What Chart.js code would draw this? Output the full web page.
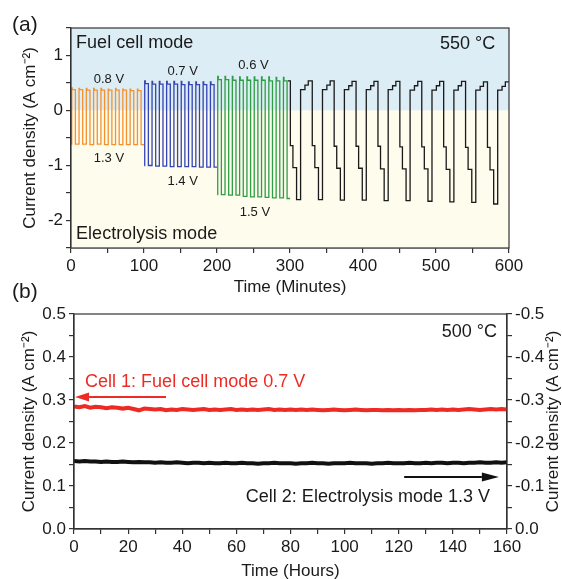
<!DOCTYPE html>
<html>
<head>
<meta charset="utf-8">
<script src="https://cdn.jsdelivr.net/npm/chart.js@4.4.0/dist/chart.umd.min.js"></script>
<style>
  html, body { margin: 0; padding: 0; background: #fff; }
  body { width: 562px; height: 579px; position: relative; overflow: hidden; }
  .panel { position: absolute; left: 0; width: 562px; }
  #panelA { top: 0; height: 300px; }
  #panelB { top: 278px; height: 301px; }
</style>
</head>
<body>
<div class="panel" id="panelA"><canvas id="chartA"></canvas></div>
<div class="panel" id="panelB"><canvas id="chartB"></canvas></div>
<script>
const FONT = "'Liberation Sans', Arial, sans-serif";
const INK = '#1a1a1a';

// ---- (a) pulse test at 550 C, time in minutes ----
const blockStarts = [0, 100, 200];                        // 0.8/1.3 V, 0.7/1.4 V, 0.6/1.5 V
const pulseOffsets = [1, 11, 21, 31, 41, 51, 61, 71, 81, 91]; // fuel cell pulse start inside a block

const orangePeak = [0.41, 0.40, 0.40, 0.40, 0.40, 0.39, 0.40, 0.39, 0.39, 0.39];
const orangeFuel = [0.38, 0.38, 0.37, 0.37, 0.37, 0.37, 0.37, 0.37, 0.36, 0.36];
const orangeElec = [-0.61, -0.61, -0.62, -0.61, -0.62, -0.62, -0.62, -0.62, -0.62, -0.62];

const bluePeak = [0.54, 0.53, 0.53, 0.53, 0.53, 0.53, 0.52, 0.52, 0.52, 0.52];
const blueFuel = [0.49, 0.48, 0.48, 0.48, 0.48, 0.47, 0.47, 0.47, 0.47, 0.47];
const blueElec = [-1.00, -1.01, -1.01, -1.02, -1.02, -1.02, -1.02, -1.03, -1.03, -1.03];

const greenPeak = [0.62, 0.62, 0.62, 0.61, 0.61, 0.61, 0.61, 0.61, 0.60, 0.60];
const greenFuel = [0.56, 0.56, 0.55, 0.55, 0.55, 0.55, 0.55, 0.54, 0.54, 0.54];
const greenElec = [-1.53, -1.54, -1.54, -1.56, -1.57, -1.57, -1.58, -1.59, -1.59, -1.60];

// mixed cycles: 1.3, 1.4, 1.5 V then 0.8, 0.7, 0.6 V
const mixStarts = [300.5, 330.5, 360.5, 390.5, 420.5, 450.5, 480.5, 510.5, 540.5, 570.5];
const mixSteps = [0, 3.5, 8.5, 14, 20, 24.5];
const mix13 = [-0.64, -0.64, -0.65, -0.65, -0.65, -0.66, -0.66, -0.66, -0.67, -0.67];
const mix14 = [-1.04, -1.04, -1.05, -1.05, -1.06, -1.06, -1.06, -1.07, -1.07, -1.08];
const mix15 = [-1.62, -1.62, -1.63, -1.63, -1.64, -1.64, -1.65, -1.66, -1.67, -1.70];
const mix08 = [0.38, 0.38, 0.38, 0.38, 0.38, 0.37, 0.37, 0.37, 0.37, 0.37];
const mix07 = [0.46, 0.46, 0.45, 0.45, 0.45, 0.45, 0.45, 0.45, 0.44, 0.44];
const mix06 = [0.54, 0.54, 0.53, 0.53, 0.53, 0.53, 0.53, 0.53, 0.52, 0.52];

// ---- (b) long term test at 500 C, time in hours ----
const hours = [0, 2, 4, 6, 8, 10, 12, 14, 16, 18, 20, 22, 24, 26, 28, 30, 32, 34, 36, 38,
  40, 42, 44, 46, 48, 50, 52, 54, 56, 58, 60, 62, 64, 66, 68, 70, 72, 74, 76, 78,
  80, 82, 84, 86, 88, 90, 92, 94, 96, 98, 100, 102, 104, 106, 108, 110, 112, 114, 116, 118,
  120, 122, 124, 126, 128, 130, 132, 134, 136, 138, 140, 142, 144, 146, 148, 150, 152, 154, 156, 158, 160];
const cell1 = [0.285, 0.283, 0.286, 0.282, 0.284, 0.283, 0.281, 0.283, 0.282, 0.280,
  0.282, 0.279, 0.276, 0.280, 0.279, 0.278, 0.279, 0.276, 0.278, 0.277,
  0.279, 0.278, 0.277, 0.278, 0.279, 0.277, 0.278, 0.277, 0.278, 0.279,
  0.277, 0.278, 0.277, 0.278, 0.277, 0.278, 0.279, 0.277, 0.278, 0.277,
  0.278, 0.277, 0.278, 0.277, 0.278, 0.277, 0.276, 0.277, 0.278, 0.277,
  0.276, 0.277, 0.278, 0.277, 0.276, 0.277, 0.277, 0.276, 0.277, 0.276,
  0.277, 0.276, 0.277, 0.276, 0.277, 0.277, 0.278, 0.277, 0.278, 0.277,
  0.278, 0.277, 0.278, 0.279, 0.278, 0.277, 0.278, 0.279, 0.278, 0.279, 0.278];
const cell2 = [0.158, 0.157, 0.158, 0.157, 0.157, 0.156, 0.157, 0.156, 0.156, 0.157,
  0.156, 0.155, 0.156, 0.155, 0.155, 0.154, 0.155, 0.154, 0.154, 0.155,
  0.154, 0.153, 0.154, 0.154, 0.153, 0.154, 0.153, 0.153, 0.154, 0.153,
  0.153, 0.154, 0.153, 0.153, 0.152, 0.153, 0.153, 0.154, 0.153, 0.153,
  0.153, 0.152, 0.153, 0.153, 0.154, 0.153, 0.153, 0.152, 0.153, 0.153,
  0.153, 0.154, 0.153, 0.153, 0.153, 0.152, 0.153, 0.153, 0.154, 0.153,
  0.153, 0.153, 0.154, 0.153, 0.153, 0.154, 0.153, 0.154, 0.154, 0.153,
  0.154, 0.154, 0.153, 0.154, 0.154, 0.155, 0.154, 0.154, 0.155, 0.154, 0.155];

function pulseBlock(start, peak, level, elec) {
  const pts = [{x: start + 0.3, y: elec[0]}];
  pulseOffsets.forEach(function (off, i) {
    const t = start + off;
    pts.push({x: t, y: peak[i]});
    pts.push({x: t + 0.8, y: level[i]});
    pts.push({x: t + 5, y: elec[i]});
  });
  pts.push({x: start + 100, y: elec[elec.length - 1]});
  return pts;
}

function mixedCycles() {
  const pts = [{x: 297, y: mix06[0]}];
  mixStarts.forEach(function (t, i) {
    const levels = [mix13[i], mix14[i], mix15[i], mix08[i], mix07[i], mix06[i]];
    mixSteps.forEach(function (dt, j) { pts.push({x: t + dt, y: levels[j]}); });
  });
  pts.push({x: 600, y: mix06[mix06.length - 1]});
  return pts;
}

// text, arrows and frame drawn on top of the plot
const notesPlugin = {
  id: 'notes',
  beforeDatasetsDraw(chart, args, opts) {
    if (!opts.bands) return;
    const a = chart.chartArea, ctx = chart.ctx;
    const y0 = chart.scales.y.getPixelForValue(0);
    ctx.save();
    ctx.fillStyle = '#dcedf5';
    ctx.fillRect(a.left, a.top, a.right - a.left, y0 - a.top);
    ctx.fillStyle = '#fefcec';
    ctx.fillRect(a.left, y0, a.right - a.left, a.bottom - y0);
    ctx.restore();
  },
  afterDraw(chart, args, opts) {
    const ctx = chart.ctx, a = chart.chartArea;
    const xs = chart.scales.x, ys = chart.scales.y;
    ctx.save();
    ctx.strokeStyle = '#333';
    ctx.lineWidth = 1.2;
    ctx.strokeRect(a.left, a.top, a.right - a.left, a.bottom - a.top);

    (opts.arrows || []).forEach(function (ar) {
      const x1 = xs.getPixelForValue(ar.from), x2 = xs.getPixelForValue(ar.to);
      const y = ys.getPixelForValue(ar.y);
      const dir = x2 > x1 ? 1 : -1;
      ctx.strokeStyle = ar.color;
      ctx.fillStyle = ar.color;
      ctx.lineWidth = 2;
      ctx.beginPath();
      ctx.moveTo(x1, y);
      ctx.lineTo(x2 - dir * ar.head, y);
      ctx.stroke();
      ctx.beginPath();
      ctx.moveTo(x2, y);
      ctx.lineTo(x2 - dir * ar.head, y - 4.5);
      ctx.lineTo(x2 - dir * ar.head, y + 4.5);
      ctx.closePath();
      ctx.fill();
    });

    (opts.texts || []).forEach(function (n) {
      ctx.font = n.size + 'px ' + FONT;
      ctx.fillStyle = n.color || INK;
      ctx.textAlign = n.align || 'left';
      ctx.textBaseline = 'middle';
      const px = n.px !== undefined ? n.px : xs.getPixelForValue(n.x);
      const py = n.py === 'mid' ? (a.top + a.bottom) / 2
        : (n.py !== undefined ? n.py : ys.getPixelForValue(n.y));
      if (n.rotate) {
        ctx.save();
        ctx.translate(px, py);
        ctx.rotate(n.rotate);
        ctx.textAlign = 'center';
        ctx.fillText(n.text, 0, 0);
        ctx.restore();
      } else {
        ctx.fillText(n.text, px, py);
      }
    });
    ctx.restore();
  }
};

Chart.defaults.font.family = FONT;
Chart.defaults.color = INK;
Chart.defaults.animation = false;

const gridStyle = {drawOnChartArea: false, drawTicks: true, tickLength: 5, color: '#333', lineWidth: 1.2};
const borderStyle = {display: true, color: '#333', width: 1.2};
const yTitle = 'Current density (A cm\u207B\u00B2)';

function onEvery(step) {
  return function (v) {
    const r = v / step;
    return Math.abs(r - Math.round(r)) < 1e-6 ? v : '';
  };
}

// Create chart (a)
new Chart(document.getElementById('chartA'), {
  type: 'line',
  data: {
    datasets: [
      {data: pulseBlock(blockStarts[0], orangePeak, orangeFuel, orangeElec), borderColor: '#f4922f'},
      {data: pulseBlock(blockStarts[1], bluePeak, blueFuel, blueElec), borderColor: '#3444b4'},
      {data: pulseBlock(blockStarts[2], greenPeak, greenFuel, greenElec), borderColor: '#2e9e45'},
      {data: mixedCycles(), borderColor: '#1a1a1a'}
    ].map(function (d) {
      return Object.assign(d, {stepped: true, borderWidth: 1.3, pointRadius: 0, fill: false});
    })
  },
  options: {
    responsive: true,
    maintainAspectRatio: false,
    layout: {padding: {top: 28, right: 53, left: 0, bottom: 0}},
    plugins: {
      legend: {display: false},
      tooltip: {enabled: false},
      notes: {
        bands: true,
        texts: [
          {text: '(a)', px: 12, py: 25, size: 21},
          {text: 'Fuel cell mode', x: 7, y: 1.22, size: 18},
          {text: '550 \u00B0C', x: 581, y: 1.2, size: 18, align: 'right'},
          {text: 'Electrolysis mode', x: 7, y: -2.24, size: 18},
          {text: '0.8 V', x: 52, y: 0.57, size: 13, align: 'center'},
          {text: '1.3 V', x: 52, y: -0.87, size: 13, align: 'center'},
          {text: '0.7 V', x: 153, y: 0.71, size: 13, align: 'center'},
          {text: '1.4 V', x: 153, y: -1.29, size: 13, align: 'center'},
          {text: '0.6 V', x: 250, y: 0.82, size: 13, align: 'center'},
          {text: '1.5 V', x: 252, y: -1.86, size: 13, align: 'center'}
        ]
      }
    },
    scales: {
      x: {
        type: 'linear', min: 0, max: 600,
        grid: gridStyle, border: borderStyle,
        ticks: {stepSize: 50, callback: onEvery(100), font: {size: 17}, padding: 3, autoSkip: false, maxRotation: 0},
        title: {display: true, text: 'Time (Minutes)', font: {size: 17}, padding: {top: 0, bottom: 2}},
        afterFit: function (s) { s.height = 52; }
      },
      y: {
        min: -2.5, max: 1.5,
        grid: gridStyle, border: borderStyle,
        ticks: {stepSize: 0.5, callback: onEvery(1), font: {size: 17}, padding: 3, autoSkip: false},
        title: {display: true, text: yTitle, font: {size: 17}, padding: {top: 20, bottom: 0}},
        afterFit: function (s) { s.width = 71; }
      }
    }
  },
  plugins: [notesPlugin]
});

// Create chart (b)
new Chart(document.getElementById('chartB'), {
  type: 'line',
  data: {
    datasets: [
      {data: hours.map(function (h, i) { return {x: h, y: cell2[i]}; }), borderColor: '#111111', borderWidth: 4},
      {data: hours.map(function (h, i) { return {x: h, y: cell1[i]}; }), borderColor: '#ee2a24', borderWidth: 4}
    ].map(function (d) {
      return Object.assign(d, {pointRadius: 0, fill: false, tension: 0, yAxisID: 'y'});
    })
  },
  options: {
    responsive: true,
    maintainAspectRatio: false,
    layout: {padding: {top: 36, right: 0, left: 0, bottom: 0}},
    plugins: {
      legend: {display: false},
      tooltip: {enabled: false},
      notes: {
        texts: [
          {text: '(b)', px: 12, py: 14, size: 21},
          {text: '500 \u00B0C', x: 156.3, y: 0.458, size: 18, align: 'right'},
          {text: 'Cell 1: Fuel cell mode 0.7 V', x: 4.1, y: 0.342, size: 18, color: '#ee2a24'},
          {text: 'Cell 2: Electrolysis mode 1.3 V', x: 153.7, y: 0.074, size: 18, align: 'right'},
          {text: yTitle, px: 553, py: 'mid', size: 17, rotate: -Math.PI / 2}
        ],
        arrows: [
          {from: 34, to: 0.4, y: 0.307, color: '#ee2a24', head: 14},
          {from: 122, to: 157, y: 0.121, color: '#111111', head: 17}
        ]
      }
    },
    scales: {
      x: {
        type: 'linear', min: 0, max: 160,
        grid: gridStyle, border: borderStyle,
        ticks: {stepSize: 10, callback: onEvery(20), font: {size: 17}, padding: 3, autoSkip: false, maxRotation: 0},
        title: {display: true, text: 'Time (Hours)', font: {size: 17, lineHeight: 0.9}, padding: {top: 0, bottom: 0}},
        afterFit: function (s) { s.height = 50; }
      },
      y: {
        min: 0, max: 0.5,
        grid: gridStyle, border: borderStyle,
        ticks: {
          stepSize: 0.05, font: {size: 17}, padding: 3, autoSkip: false,
          callback: function (v) { return Math.abs(v * 10 - Math.round(v * 10)) < 1e-6 ? v.toFixed(1) : ''; }
        },
        title: {display: true, text: yTitle, font: {size: 17}, padding: {top: 19, bottom: 0}},
        afterFit: function (s) { s.width = 74; }
      },
      y2: {
        position: 'right', min: 0, max: 0.5,
        grid: gridStyle, border: borderStyle,
        ticks: {
          stepSize: 0.05, font: {size: 17}, padding: 3, autoSkip: false,
          callback: function (v) {
            if (Math.abs(v * 10 - Math.round(v * 10)) > 1e-6) return '';
            return v === 0 ? '0.0' : '-' + v.toFixed(1);
          }
        },
        afterFit: function (s) { s.width = 55; }
      }
    }
  },
  plugins: [notesPlugin]
});
</script>
</body>
</html>
